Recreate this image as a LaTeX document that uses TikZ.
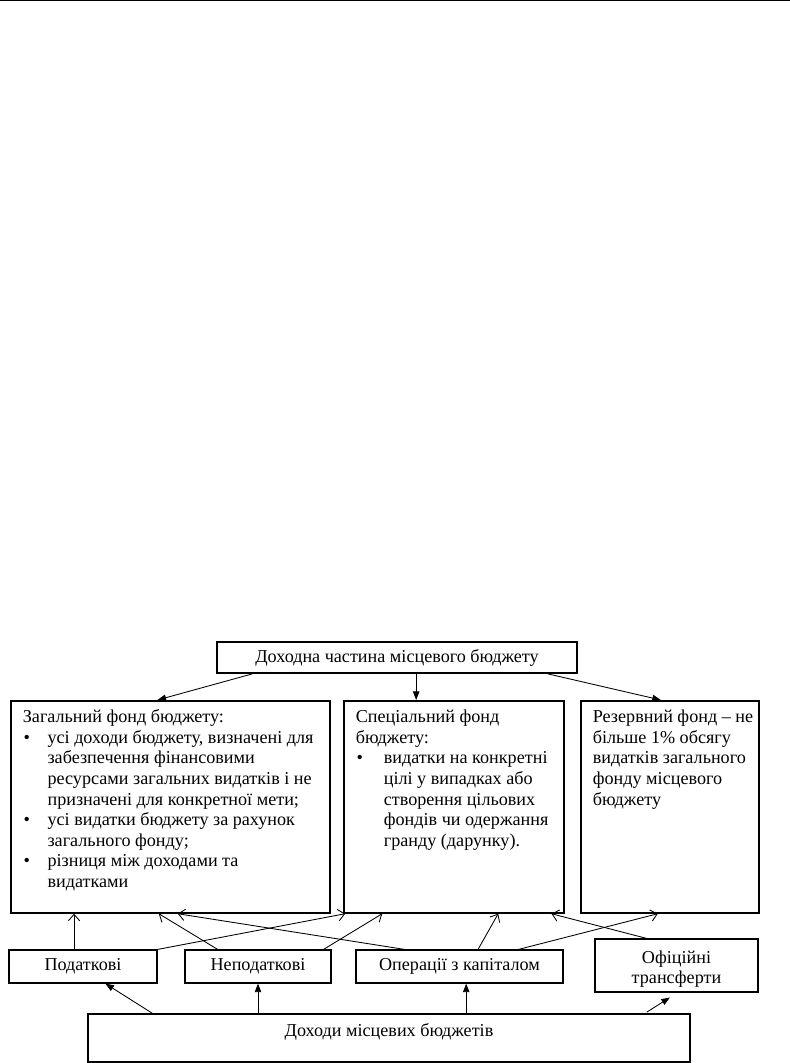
\documentclass[tikz,border=0pt]{standalone}
\usepackage{fontspec}
\setmainfont{Liberation Serif}
\usetikzlibrary{arrows.meta,calc}

\newcommand{\bitem}[2][17.3pt]{\par\noindent\hangindent=#1\hangafter=1\makebox[#1][l]{\hspace{0.5pt}\textbullet}#2}

\begin{document}
\begin{tikzpicture}[
    x=0.7pt, y=-0.7pt,
    every node/.style={font=\fontsize{12.7}{14.4}\selectfont},
    box/.style={rectangle, draw, line width=0.8pt, inner sep=0pt, minimum height=23.1pt},
    fund/.style={rectangle, draw, line width=1.2pt, anchor=north west, inner xsep=8.4pt, inner ysep=5.3pt},
    arrow/.style={-{Triangle[length=6pt,width=4.5pt]}, line width=0.6pt},
    openarrow/.style={-{Straight Barb[length=4.5pt,width=8pt]}, line width=0.6pt}
]
    \useasboundingbox (0,0) rectangle (790,1063);
    \draw[line width=1pt] (0,0.7) -- (790,0.7);

    % Revenue part
    \node[box, line width=1.2pt, minimum width=252pt, minimum height=21.7pt] (dokh) at (397,657.5) {Доходна частина місцевого бюджету};

    % Funds
    \node[fund] (zag) at (10,700) {\parbox[t][137.8pt][t]{206.5pt}{\raggedright\strut Загальний фонд бюджету:
        \bitem{усі доходи бюджету, визначені для\newline забезпечення фінансовими\newline ресурсами загальних видатків і не\newline призначені для конкретної мети;}
        \bitem{усі видатки бюджету за рахунок\newline загального фонду;}
        \bitem{різниця між доходами та\newline видатками}}};
    \node[fund] (spec) at (343,700) {\parbox[t][137.8pt][t]{137.2pt}{\raggedright\strut Спеціальний фонд\\ бюджету:
        \bitem[19.6pt]{видатки на конкретні\newline цілі у випадках або\newline створення цільових\newline фондів чи одержання\newline гранду (дарунку).}}};
    \node[fund] (rez) at (580,700) {\parbox[t][137.8pt][t]{107.8pt}{\raggedright\strut\mbox{Резервний фонд – не}\\ \mbox{більше 1\% обсягу}\\ \mbox{видатків загального}\\ фонду місцевого\\ бюджету}};

    % Sources
    \node[box, minimum width=103.6pt] (pod) at (83,966.5) {Податкові};
    \node[box, minimum width=102.2pt] (nepod) at (258,966.5) {Неподаткові};
    \node[box, minimum width=144.9pt] (oper) at (459.5,966.5) {Операції з капіталом};
    \node[box, minimum width=114.1pt, minimum height=37.1pt] (ofic) at (676.5,965.5) {\raisebox{-2.8pt}[\height][\depth]{\begin{tabular}{@{}c@{}}Офіційні\\трансферти\end{tabular}}};

    % Local budget revenues
    \node[box, minimum width=421.4pt, minimum height=33.6pt, inner ysep=4pt, text height=11.4pt, text depth=14.2pt] (doh) at (389,1038) {Доходи місцевих бюджетів};

    % Arrows to the funds
    \draw[arrow] ($(dokh.south west)!0.10!(dokh.south east)$) -- ($(zag.north west)!0.46!(zag.north east)$);
    \draw[arrow] ($(dokh.south west)!0.553!(dokh.south east)$) coordinate (m) -- (m |- spec.north);
    \draw[arrow] ($(dokh.south west)!0.917!(dokh.south east)$) -- ($(rez.north west)!0.45!(rez.north east)$);

    % Sources up to the funds
    \draw[openarrow] ($(pod.north west)!0.44!(pod.north east)$) coordinate (p) -- (p |- zag.south);
    \draw[openarrow] (pod.north east) -- ($(spec.south west)!0.01!(spec.south east)$);
    \draw[openarrow] ($(nepod.north west)!0.226!(nepod.north east)$) -- ($(zag.south west)!0.464!(zag.south east)$);
    \draw[openarrow] ($(nepod.north west)!0.945!(nepod.north east)$) -- ($(spec.south west)!0.177!(spec.south east)$);
    \draw[openarrow] ($(oper.north west)!0.237!(oper.north east)$) -- ($(zag.south west)!0.523!(zag.south east)$);
    \draw[openarrow] ($(oper.north west)!0.589!(oper.north east)$) -- ($(spec.south west)!0.70!(spec.south east)$);
    \draw[openarrow] ($(oper.north west)!0.783!(oper.north east)$) -- ($(rez.south west)!0.433!(rez.south east)$);
    \draw[openarrow] ($(ofic.north west)!0.319!(ofic.north east)$) -- ($(spec.south west)!0.94!(spec.south east)$);

    % Revenues to the sources
    \draw[arrow] ($(doh.north west)!0.108!(doh.north east)$) -- ($(pod.south west)!0.65!(pod.south east)$);
    \draw[arrow] (nepod.south |- doh.north) -- (nepod.south);
    \draw[arrow] ($(doh.north west)!0.628!(doh.north east)$) coordinate (o) -- (o |- oper.south);
    \draw[arrow, shorten <=1.7pt, shorten >=6.4pt] ($(doh.north west)!0.924!(doh.north east)$) -- ($(ofic.south west)!0.507!(ofic.south east)$);
\end{tikzpicture}
\end{document}
